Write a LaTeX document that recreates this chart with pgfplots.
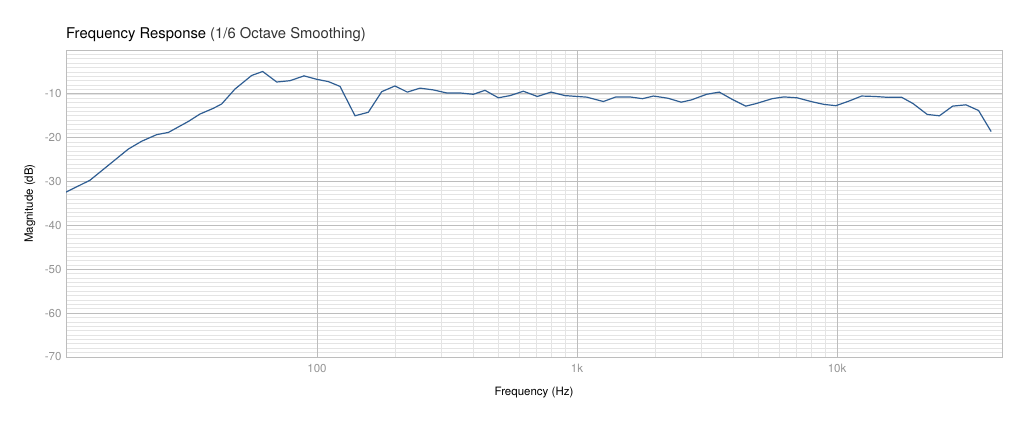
\documentclass[border=0pt]{standalone}
\usepackage{pgfplots}
\pgfplotsset{compat=1.18}
\usepackage{fontspec}
\setmainfont{TeX Gyre Heros}
\definecolor{curve}{HTML}{2F5E93}
\definecolor{majgrid}{HTML}{BDBDBD}
\definecolor{mingrid}{HTML}{E4E4E4}
\definecolor{ticklab}{HTML}{939393}
\begin{document}
\begin{tikzpicture}
\path[use as bounding box] (0,0) rectangle (1024pt,427pt);
\begin{axis}[
  at={(66pt,70pt)},
  scale only axis,
  width=936pt, height=307pt,
  xmode=log,
  xmin=10.83, xmax=43100,
  ymin=-70, ymax=0,
  xtick={100,1000,10000},
  xticklabels={100,1k,10k},
  ytick={-70,-60,-50,-40,-30,-20,-10},
  yticklabels={-70,-60,-50,-40,-30,-20,-10},
  minor ytick={-69,-68,...,-1},
  grid=both,
  major grid style={color=majgrid, line width=0.8pt},
  minor grid style={color=mingrid, line width=0.7pt},
  extra x ticks={100,1000,10000},
  extra x tick labels={},
  extra y ticks={-60,-50,-40,-30,-20,-10},
  extra y tick labels={},
  extra tick style={grid=major, major grid style={color=majgrid, line width=0.8pt}},
  major tick length=0pt, minor tick length=0pt,
  axis line style={color=majgrid, line width=0.8pt},
  ticklabel style={font=\fontsize{11.5}{13}\selectfont, color=ticklab},
  xticklabel style={yshift=-4pt},
  yticklabel style={xshift=-1pt},
  title={Frequency Response {\color[HTML]{333333}(1/6 Octave Smoothing)}},
  title style={at={(axis description cs:0,1)}, anchor=base west, inner xsep=0pt, yshift=5pt, font=\fontsize{14.8}{17}\selectfont},
  xlabel={Frequency (Hz)},
  ylabel={Magnitude (dB)},
  xlabel style={at={(axis description cs:0.5,-0.117)}, anchor=center, font=\fontsize{11.5}{13}\selectfont},
  ylabel style={at={(axis description cs:-0.0385,0.5)}, anchor=center, rotate=0, font=\fontsize{11.5}{13}\selectfont},
  clip=true,
]
\addplot[color=curve, line width=1.2pt] coordinates {
(10.83,-32.4) (13.39,-29.7) (18.80,-22.6) (21.17,-20.8) (24.18,-19.3) (26.80,-18.8)
(31.99,-16.3) (35.48,-14.6) (39.93,-13.3) (43.00,-12.3) (48.37,-8.9) (56.09,-5.8)
(61.83,-4.9) (69.98,-7.3) (78.74,-7.0) (89.13,-5.9) (100,-6.7) (110.5,-7.2)
(122.6,-8.3) (140.0,-15.0) (157.5,-14.2) (177.4,-9.5) (199.5,-8.2) (222.5,-9.6)
(248.9,-8.7) (280.1,-9.1) (315.4,-9.8) (354.8,-9.8) (399.2,-10.1) (442.8,-9.2)
(498.2,-10.9) (552.6,-10.4) (621.7,-9.4) (703.7,-10.6) (794.3,-9.6) (899.1,-10.4)
(1089.6,-10.75) (1262.4,-11.75) (1411,-10.7) (1596,-10.7) (1784,-11.1) (1970,-10.5)
(2237,-11.0) (2515,-11.9) (2747,-11.4) (3151,-10.1) (3524,-9.6) (3964,-11.3)
(4455,-12.8) (4863,-12.25) (5632,-11.1) (6243,-10.7) (7017,-10.9) (8007,-11.8)
(8897,-12.4) (9895,-12.7) (11053,-11.7) (12435,-10.5) (13982,-10.6) (15727,-10.8)
(17676,-10.75) (19588,-12.2) (22233,-14.7) (24763,-15.0) (27836,-12.8) (31311,-12.5)
(35019,-13.8) (39150,-18.6)
};
\end{axis}
\end{tikzpicture}
\end{document}
